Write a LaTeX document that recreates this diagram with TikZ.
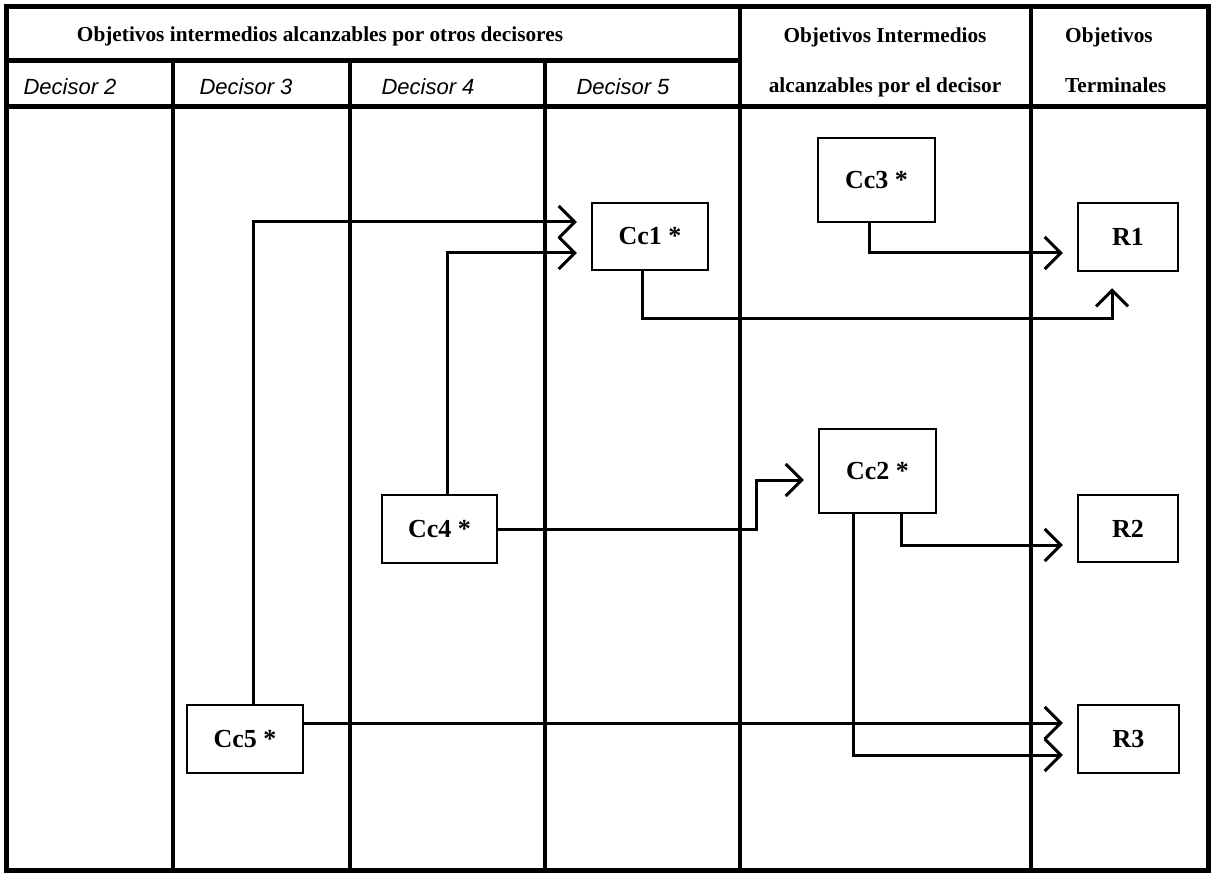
\documentclass[tikz,border=0pt]{standalone}
\usepackage{fontspec}
\setmainfont{Liberation Serif}
\setsansfont{Liberation Sans}
\usetikzlibrary{arrows.meta}
\tikzset{
  frame/.style={line width=5pt},
  coll/.style={line width=4pt},
  hdr/.style={font=\fontsize{21.3}{25}\selectfont\bfseries, anchor=base, inner sep=0pt},
  dec/.style={font=\fontsize{22}{25}\selectfont\sffamily\itshape, anchor=base, inner sep=0pt},
  box/.style={draw, line width=2.5pt, minimum width=#1, font=\fontsize{26}{30}\selectfont\bfseries, inner sep=0pt},
  conn/.style={line width=3pt},
  arr/.style={conn, -{Straight Barb[length=16pt,width=32pt]}},
}
\begin{document}
\begin{tikzpicture}[x=1pt,y=-1pt]
\useasboundingbox (0,0) rectangle (1214,874);
% frame
\draw[frame] (6,7) rectangle (1208,870);
\draw[frame] (6,61) -- (740,61);
\draw[frame] (6,107) -- (1208,107);
\draw[coll] (173,61) -- (173,870);
\draw[coll] (350,61) -- (350,870);
\draw[coll] (545,61) -- (545,870);
\draw[coll] (740,7) -- (740,870);
\draw[coll] (1031,7) -- (1031,870);
% headers
\node[hdr] (h1) at (320,42) {Objetivos intermedios alcanzables por otros decisores};
\node[hdr] (h2a) at (885,43) {Objetivos Intermedios};
\node[hdr] (h2b) at (885,93) {alcanzables por el decisor};
\node[hdr, anchor=base west] (h3a) at (1065,43) {Objetivos};
\node[hdr, anchor=base west] (h3b) at (1065,93) {Terminales};
\node[dec] (d2) at (70,95) {Decisor 2};
\node[dec] (d3) at (246,95) {Decisor 3};
\node[dec] (d4) at (428,95) {Decisor 4};
\node[dec] (d5) at (623,95) {Decisor 5};
% boxes
\node[box=117pt, minimum height=84pt] (cc3) at (876.5,180) {Cc3 *};
\node[box=116pt, minimum height=67pt] (cc1) at (650,236.5) {Cc1 *};
\node[box=100pt, minimum height=68pt] (r1) at (1128,237) {R1};
\node[box=117pt, minimum height=84pt] (cc2) at (877.5,471) {Cc2 *};
\node[box=115pt, minimum height=68pt] (cc4) at (439.5,529) {Cc4 *};
\node[box=100pt, minimum height=67pt] (r2) at (1128,528.5) {R2};
\node[box=116pt, minimum height=68pt] (cc5) at (245,739) {Cc5 *};
\node[box=101pt, minimum height=68pt] (r3) at (1128.5,739) {R3};
% connectors
\draw[arr] ([xshift=8pt]cc5.north) |- ([xshift=-14pt,yshift=14.5pt]cc1.west);
\draw[arr] ([xshift=7.5pt]cc4.north) |- ([xshift=-14pt,yshift=-16.5pt]cc1.west);
\draw[arr] ([xshift=-8pt]cc1.south) -- ++(0,47) -| ([xshift=-16pt,yshift=-16pt]r1.south);
\draw[arr] ([xshift=-7.5pt]cc3.south) |- ([xshift=-14pt,yshift=-16pt]r1.west);
\draw[arr] (cc4.east) -- ++(258,0) |- ([xshift=-14pt,yshift=-9pt]cc2.west);
\draw[arr] ([xshift=23.5pt]cc2.south) |- ([xshift=-14pt,yshift=-16.5pt]r2.west);
\draw[arr] ([xshift=-24.5pt]cc2.south) |- ([xshift=-14pt,yshift=-16pt]r3.west);
\draw[arr] ([yshift=16pt]cc5.east) -- ([xshift=-14pt,yshift=16pt]r3.west);
\end{tikzpicture}
\end{document}
